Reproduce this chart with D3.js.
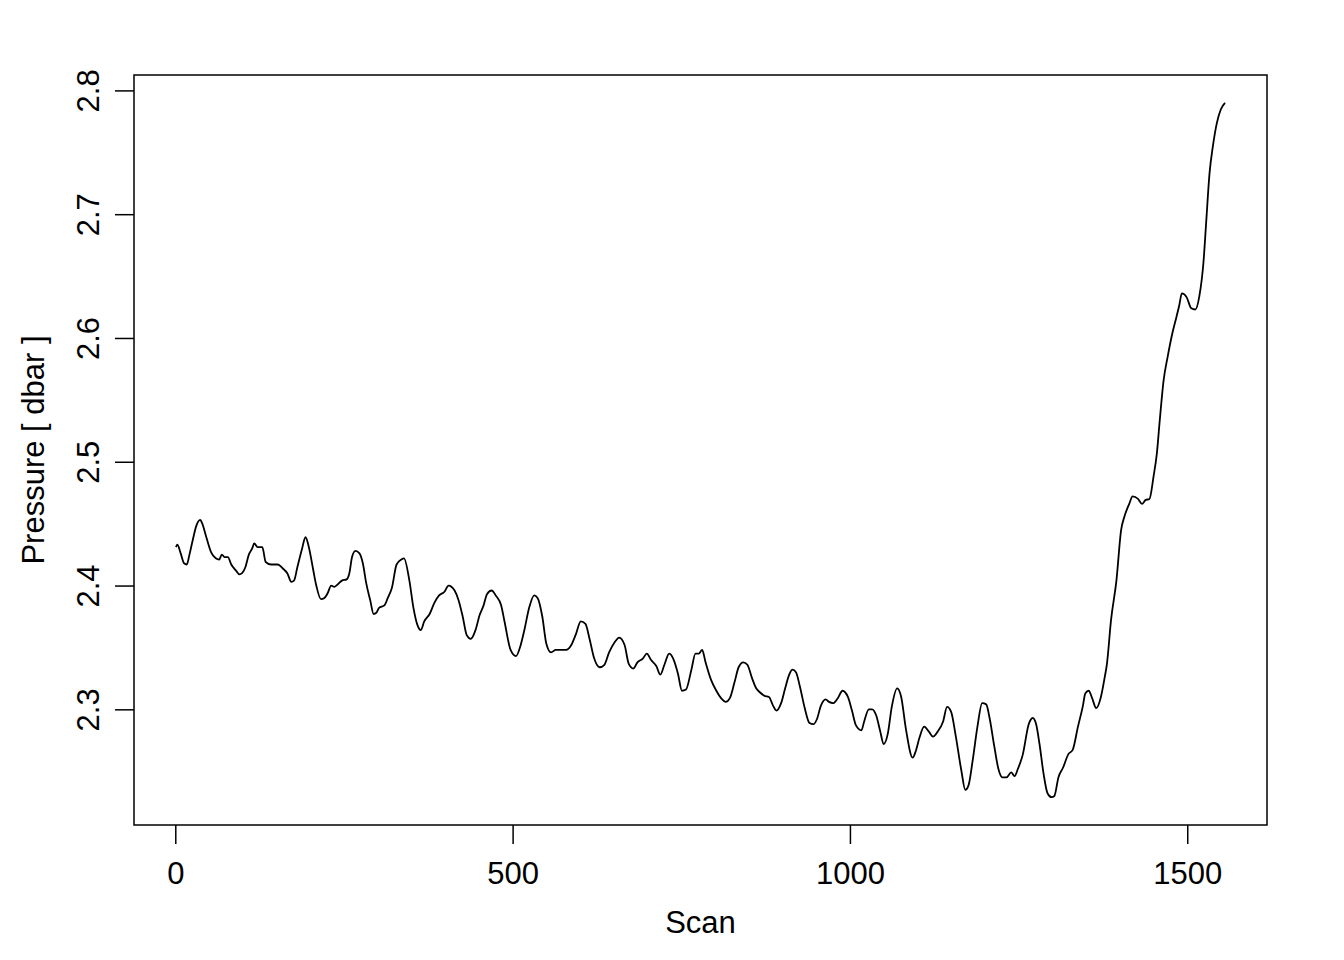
<!DOCTYPE html>
<html>
<head>
<meta charset="utf-8">
<script src="https://cdn.jsdelivr.net/npm/d3@7"></script>
<style>
  body { margin: 0; background: #fff; }
  svg { display: block; }
  text { font-family: "Liberation Sans", Arial, Helvetica, sans-serif; fill: #000; }
</style>
</head>
<body>
<div id="chart"></div>
<script>
// scan number and pressure
const scans = [1, 3, 8, 13, 17, 21, 26, 31, 37, 40, 46, 53, 60, 65, 69, 73, 78, 83, 90, 95,
  99, 104, 109, 114, 117, 122, 129, 134, 142, 147, 152, 159, 166, 172, 176, 181, 188, 193, 198, 204,
  209, 216, 221, 226, 231, 236, 241, 247, 254, 258, 262, 267, 273, 278, 283, 289, 294, 298, 302, 310,
  315, 321, 328, 335, 339, 347, 353, 359, 364, 369, 377, 384, 391, 399, 405, 414, 420, 426, 432, 438,
  445, 451, 457, 462, 469, 475, 483, 488, 497, 505, 512, 517, 525, 532, 537, 544, 550, 557, 564, 572,
  579, 587, 594, 601, 608, 614, 621, 629, 636, 643, 651, 658, 666, 672, 679, 685, 693, 699, 705, 713,
  719, 725, 732, 738, 745, 751, 757, 765, 771, 776, 781, 786, 794, 802, 809, 816, 822, 829, 835, 842,
  848, 855, 861, 866, 873, 880, 886, 891, 898, 904, 910, 915, 920, 926, 933, 940, 946, 951, 957, 964,
  969, 975, 982, 989, 997, 1003, 1009, 1017, 1021, 1028, 1033, 1039, 1045, 1050, 1056, 1062, 1070, 1076, 1083, 1093,
  1098, 1103, 1110, 1117, 1123, 1130, 1138, 1144, 1150, 1157, 1165, 1171, 1176, 1182, 1189, 1196, 1202, 1207, 1214, 1220,
  1226, 1232, 1239, 1244, 1249, 1256, 1265, 1271, 1276, 1281, 1287, 1293, 1299, 1303, 1309, 1316, 1324, 1330, 1338, 1345,
  1349, 1354, 1359, 1365, 1372, 1377, 1381, 1387, 1395, 1402, 1407, 1414, 1419, 1427, 1433, 1438, 1444, 1450, 1455, 1459,
  1465, 1471, 1478, 1484, 1488, 1492, 1499, 1506, 1512, 1518, 1524, 1528, 1533, 1538, 1544, 1550, 1556]

const pressure = [2.431, 2.433, 2.426, 2.418, 2.417, 2.425, 2.437, 2.448, 2.453, 2.450, 2.439, 2.427, 2.422, 2.421, 2.425, 2.423, 2.423, 2.417, 2.412, 2.409,
  2.410, 2.415, 2.425, 2.430, 2.434, 2.431, 2.431, 2.419, 2.417, 2.417, 2.417, 2.414, 2.410, 2.403, 2.404, 2.415, 2.430, 2.439, 2.431, 2.414,
  2.400, 2.389, 2.390, 2.394, 2.400, 2.399, 2.401, 2.404, 2.405, 2.410, 2.423, 2.428, 2.426, 2.418, 2.402, 2.388, 2.377, 2.378, 2.382, 2.384,
  2.390, 2.398, 2.417, 2.421, 2.422, 2.404, 2.382, 2.368, 2.364, 2.371, 2.377, 2.386, 2.392, 2.395, 2.400, 2.396, 2.388, 2.375, 2.360, 2.357,
  2.364, 2.376, 2.384, 2.393, 2.396, 2.392, 2.384, 2.371, 2.348, 2.343, 2.352, 2.363, 2.383, 2.392, 2.390, 2.375, 2.353, 2.346, 2.348, 2.348,
  2.348, 2.352, 2.361, 2.371, 2.369, 2.357, 2.341, 2.334, 2.336, 2.346, 2.354, 2.358, 2.352, 2.337, 2.333, 2.338, 2.341, 2.345, 2.340, 2.335,
  2.328, 2.336, 2.345, 2.341, 2.329, 2.315, 2.316, 2.332, 2.345, 2.345, 2.348, 2.338, 2.324, 2.315, 2.309, 2.306, 2.309, 2.322, 2.334, 2.338,
  2.336, 2.325, 2.317, 2.314, 2.311, 2.310, 2.303, 2.299, 2.305, 2.317, 2.328, 2.332, 2.330, 2.318, 2.301, 2.289, 2.288, 2.292, 2.303, 2.308,
  2.306, 2.305, 2.309, 2.315, 2.310, 2.299, 2.287, 2.283, 2.290, 2.300, 2.300, 2.295, 2.282, 2.272, 2.280, 2.302, 2.317, 2.310, 2.284, 2.261,
  2.267, 2.277, 2.286, 2.282, 2.278, 2.282, 2.290, 2.302, 2.298, 2.278, 2.251, 2.235, 2.239, 2.259, 2.286, 2.305, 2.304, 2.293, 2.270, 2.252,
  2.245, 2.245, 2.249, 2.246, 2.252, 2.263, 2.288, 2.293, 2.288, 2.272, 2.248, 2.232, 2.229, 2.230, 2.245, 2.253, 2.264, 2.267, 2.286, 2.302,
  2.313, 2.315, 2.309, 2.301, 2.310, 2.324, 2.337, 2.372, 2.404, 2.445, 2.456, 2.466, 2.472, 2.470, 2.466, 2.469, 2.470, 2.488, 2.507, 2.532,
  2.566, 2.585, 2.604, 2.617, 2.626, 2.636, 2.633, 2.624, 2.623, 2.634, 2.661, 2.693, 2.733, 2.755, 2.774, 2.785, 2.790]

const xTicks = [0, 500, 1000, 1500]
const yTicks = [2.3, 2.4, 2.5, 2.6, 2.7, 2.8]

const width = 1344, height = 960
const margin = { top: 75, right: 77, bottom: 135, left: 134 }

const svg = d3.select('#chart').append('svg')
  .attr('width', width)
  .attr('height', height)

// R style 4% padding around the data range
const xExt = d3.extent(scans), yExt = d3.extent(pressure)
const xPad = (xExt[1] - xExt[0]) * 0.04, yPad = (yExt[1] - yExt[0]) * 0.04

const x = d3.scaleLinear()
  .domain([xExt[0] - xPad, xExt[1] + xPad])
  .range([margin.left, width - margin.right])

const y = d3.scaleLinear()
  .domain([yExt[0] - yPad, yExt[1] + yPad])
  .range([height - margin.bottom, margin.top])

const fontSize = 31
const tickLen = 19

const xAxis = svg.append('g')
  .attr('transform', 'translate(0,' + (height - margin.bottom) + ')')
  .call(d3.axisBottom(x).tickValues(xTicks).tickFormat(d3.format('d')).tickSize(tickLen).tickSizeOuter(0))
xAxis.select('.domain').remove()
xAxis.selectAll('line').attr('stroke', '#000').attr('stroke-width', 1.5)
xAxis.selectAll('text')
  .attr('y', 0).attr('dy', null)
  .attr('transform', 'translate(0,59)')
  .style('font-size', fontSize + 'px')
  .style('font-family', '"Liberation Sans", Arial, sans-serif')

const yAxis = svg.append('g')
  .attr('transform', 'translate(' + margin.left + ',0)')
  .call(d3.axisLeft(y).tickValues(yTicks).tickFormat(d3.format('.1f')).tickSize(tickLen).tickSizeOuter(0))
yAxis.select('.domain').remove()
yAxis.selectAll('line').attr('stroke', '#000').attr('stroke-width', 1.5)
yAxis.selectAll('text')
  .attr('x', 0).attr('dy', null)
  .attr('text-anchor', 'middle')
  .attr('transform', 'translate(-35,0) rotate(-90)')
  .style('font-size', fontSize + 'px')
  .style('font-family', '"Liberation Sans", Arial, sans-serif')

// plot frame
svg.append('rect')
  .attr('x', margin.left)
  .attr('y', margin.top)
  .attr('width', width - margin.left - margin.right)
  .attr('height', height - margin.top - margin.bottom)
  .attr('fill', 'none')
  .attr('stroke', '#000')
  .attr('stroke-width', 1.5)

const line = d3.line()
  .x((d, i) => x(scans[i]))
  .y(d => y(d))
  .curve(d3.curveMonotoneX)

svg.append('path')
  .datum(pressure)
  .attr('d', line)
  .attr('fill', 'none')
  .attr('stroke', '#000')
  .attr('stroke-width', 1.8)
  .attr('stroke-linejoin', 'round')

svg.append('text')
  .attr('x', (margin.left + width - margin.right) / 2)
  .attr('y', 933)
  .attr('text-anchor', 'middle')
  .style('font-size', fontSize + 'px')
  .text('Scan')

svg.append('text')
  .attr('transform', 'translate(44,' + ((margin.top + height - margin.bottom) / 2) + ') rotate(-90)')
  .attr('text-anchor', 'middle')
  .style('font-size', fontSize + 'px')
  .text('Pressure [ dbar ]')
</script>
</body>
</html>
